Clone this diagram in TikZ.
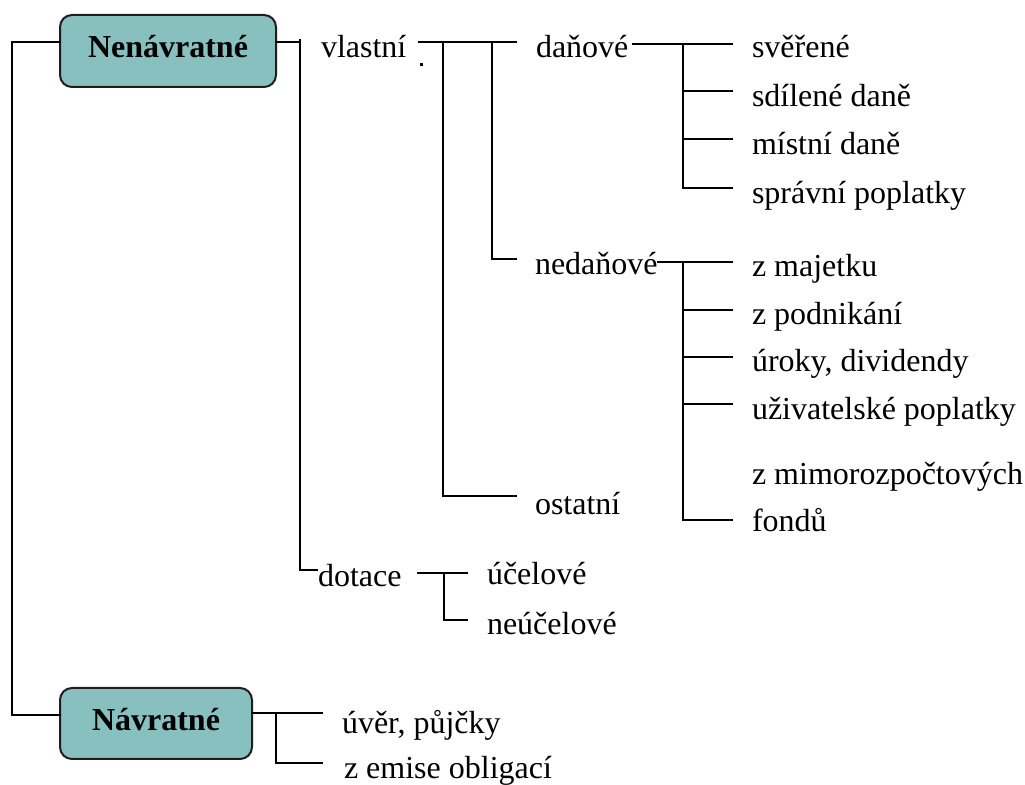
\documentclass[tikz,border=0pt]{standalone}
\usepackage{fontspec}
\setmainfont{Liberation Serif}
\definecolor{boxfill}{RGB}{136,191,191}
\definecolor{boxline}{RGB}{30,30,30}
\begin{document}
\begin{tikzpicture}[x=0.5pt,y=-0.5pt,
  every node/.style={inner sep=0pt,outer sep=0pt},
  lbl/.style={anchor=base west,font=\fontsize{16}{18}\selectfont},
  mainbox/.style={draw=boxline,line width=1pt,fill=boxfill,rounded corners=6pt,
    font=\fontsize{16}{18}\selectfont\bfseries,text height=12pt,text depth=5pt},
  tree/.style={line width=1pt,line cap=rect}]
\useasboundingbox (0,0) rectangle (1025,785);

% top-level boxes
\node[mainbox,minimum width=108pt,minimum height=36pt] (nen) at (168,51) {Nenávratné};
\node[mainbox,minimum width=96pt,minimum height=35.5pt] (nav) at (156,723.5) {Návratné};

% second level
\node[lbl] (vlastni) at (321,58) {vlastní};
\node[lbl] (dotace) at (318,587) {dotace};

% third level
\node[lbl] (danove) at (536,58) {daňové};
\node[lbl] (nedanove) at (535,275) {nedaňové};
\node[lbl] (ostatni) at (535,515) {ostatní};
\node[lbl] (ucelove) at (487,585) {účelové};
\node[lbl] (neucelove) at (487,635) {neúčelové};
\node[lbl] (uver) at (342,734) {úvěr, půjčky};
\node[lbl] (emise) at (344,779) {z emise obligací};

% tax revenues
\node[lbl] (sverene) at (752,58) {svěřené};
\node[lbl] (sdilene) at (752,107) {sdílené daně};
\node[lbl] (mistni) at (752,155) {místní daně};
\node[lbl] (spravni) at (752,204) {správní poplatky};

% non-tax revenues
\node[lbl] (majetek) at (752,277) {z majetku};
\node[lbl] (podnikani) at (752,325) {z podnikání};
\node[lbl] (uroky) at (752,372) {úroky, dividendy};
\node[lbl] (uzivatel) at (752,420) {uživatelské poplatky};
\node[lbl] (fondyA) at (752,485) {z mimorozpočtových};
\node[lbl] (fondyB) at (752,532) {fondů};

% junction points
\coordinate (lt) at (12,42);
\coordinate (lb) at (12,715);
\coordinate (r1) at (300,40);
\coordinate (r1b) at (300,570);
\coordinate (d1) at (317,570);
\coordinate (v0) at (419,42);
\coordinate (v1) at (443,42);
\coordinate (v2) at (492,42);
\coordinate (v3) at (516,42);
\coordinate (o1) at (443,496);
\coordinate (o2) at (516,496);
\coordinate (n1) at (492,259);
\coordinate (n2) at (516,259);
\coordinate (t0) at (633,44);
\coordinate (tj) at (683,44);
\coordinate (tb) at (683,188);
\coordinate (q0) at (658,262);
\coordinate (qj) at (683,262);
\coordinate (qb) at (683,520);
\coordinate (e) at (732,0);
\coordinate (c0) at (418,573);
\coordinate (cj) at (444,573);
\coordinate (cb) at (444,620);
\coordinate (c1) at (467,0);
\coordinate (u0) at (276,713);
\coordinate (ub) at (276,763);
\coordinate (u1) at (322,0);

% connectors
\draw[tree] (nen.west |- lt) -- (lt) -- (lb) -- (nav.west |- lb);
\draw[tree] (nen.east |- 0,42) -- (300,42);
\draw[tree] (r1) -- (r1b) -- (d1);
\draw[tree] (v0) -- (v3);
\draw[tree] (v1) -- (o1) -- (o2);
\draw[tree] (v2) -- (n1) -- (n2);
\fill (420,63) rectangle (423,66);

\draw[tree] (t0) -- (e |- t0);
\draw[tree] (tj) -- (tb) -- (e |- tb);
\foreach \y in {91,139} \draw[tree] (683,\y) -- (e |- 0,\y);

\draw[tree] (q0) -- (e |- q0);
\draw[tree] (qj) -- (qb) -- (e |- qb);
\foreach \y in {310,357,404} \draw[tree] (683,\y) -- (e |- 0,\y);

\draw[tree] (c0) -- (c1 |- c0);
\draw[tree] (cj) -- (cb) -- (c1 |- cb);

\draw[tree] (nav.east |- u0) -- (u1 |- u0);
\draw[tree] (u0) -- (ub) -- (u1 |- ub);
\end{tikzpicture}
\end{document}
